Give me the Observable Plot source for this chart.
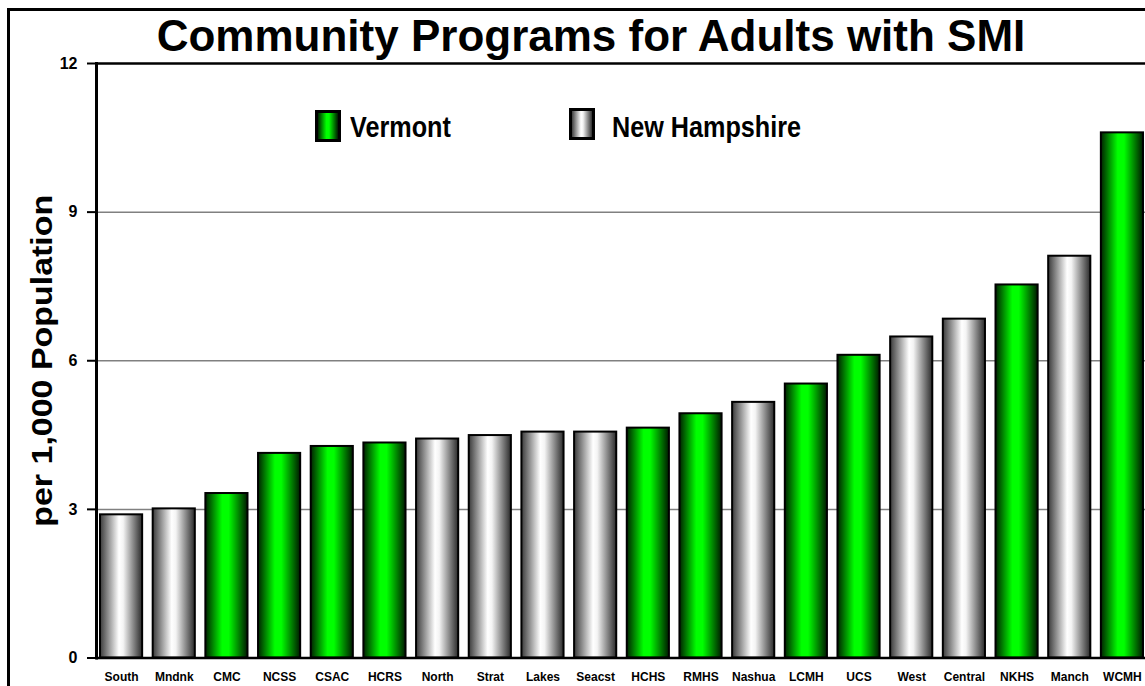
<!DOCTYPE html>
<html>
<head>
<meta charset="utf-8">
<script src="https://cdn.jsdelivr.net/npm/d3@7"></script>
<script src="https://cdn.jsdelivr.net/npm/@observablehq/plot@0.6"></script>
<style>
  html, body { margin: 0; padding: 0; background: #fff; overflow: hidden; width: 1145px; height: 686px; }
  body { position: relative; font-family: "Liberation Sans", Arial, sans-serif; }
  #frame { position: absolute; left: 7px; top: 8px; width: 1200px; height: 700px;
           border-left: 3px solid #000; border-top: 3px solid #000; }
  #title { position: absolute; left: 581px; top: 0; height: 49px; line-height: 49px; white-space: nowrap;
           transform: translateX(-50%); font-size: 44px; font-weight: bold; color: #000; }
  #chart { position: absolute; left: 0; top: 39px; }
  .sw { position: absolute; box-sizing: border-box; border: 3px solid #000; }
  .lt { position: absolute; font-family: "Liberation Sans", Arial, sans-serif;
        font-weight: bold; font-size: 30px; line-height: 30px; white-space: nowrap; color: #000;
        transform: scaleX(0.84); transform-origin: 0 50%; }
</style>
</head>
<body>
<div id="frame">
  <div id="title">Community Programs for Adults with SMI</div>
  <div id="chart"></div>
</div>
<div class="sw" style="left:315px;top:110px;width:26px;height:32px;background:linear-gradient(to right,#002200 0%,#00ff00 42%,#00ff00 55%,#001a00 100%);"></div>
<div class="lt" style="left:350px;top:112px;">Vermont</div>
<div class="sw" style="left:569px;top:108px;width:26px;height:32px;background:linear-gradient(to right,#404040 0%,#ffffff 45%,#f4f4f4 55%,#303030 100%);"></div>
<div class="lt" style="left:612px;top:112px;">New Hampshire</div>
<script>
const categories = ["South","Mndnk","CMC","NCSS","CSAC","HCRS","North","Strat","Lakes","Seacst","HCHS","RMHS","Nashua","LCMH","UCS","West","Central","NKHS","Manch","WCMH"];
const values = [2.89, 3.01, 3.32, 4.13, 4.27, 4.34, 4.42, 4.49, 4.56, 4.56, 4.64, 4.93, 5.16, 5.53, 6.11, 6.48, 6.84, 7.53, 8.11, 10.60];
const states = ["NH","NH","VT","VT","VT","VT","NH","NH","NH","NH","VT","VT","NH","VT","VT","NH","NH","VT","NH","VT"];
const yTicks = [0, 3, 6, 9, 12];
const gridTicks = [3, 6, 9];
const yLabel = "per 1,000 Population";

const data = categories.map((c, i) => ({name: c, value: values[i], state: states[i]}));

const defsMark = () => {
  const defs = document.createElementNS("http://www.w3.org/2000/svg", "defs");
  defs.innerHTML = `
    <linearGradient id="gVT" x1="0" x2="1" y1="0" y2="0">
      <stop offset="0%" stop-color="#002200"/>
      <stop offset="40%" stop-color="#00ff00"/>
      <stop offset="55%" stop-color="#00ff00"/>
      <stop offset="100%" stop-color="#001a00"/>
    </linearGradient>
    <linearGradient id="gNH" x1="0" x2="1" y1="0" y2="0">
      <stop offset="0%" stop-color="#3a3a3a"/>
      <stop offset="45%" stop-color="#ffffff"/>
      <stop offset="55%" stop-color="#f4f4f4"/>
      <stop offset="100%" stop-color="#2a2a2a"/>
    </linearGradient>`;
  return defs;
};

const chart = Plot.plot({
  width: 1140,
  height: 636,
  marginLeft: 86,
  marginRight: 3,
  marginTop: 13,
  marginBottom: 28.5,
  style: {fontFamily: "'Liberation Sans', Arial, sans-serif", background: "transparent", color: "#000"},
  x: {domain: categories, paddingInner: 0.2, paddingOuter: 0.076, round: false, label: null},
  y: {domain: [0, 12], label: null},
  marks: [
    defsMark,
    Plot.gridY(gridTicks, {stroke: "#808080", strokeOpacity: 1, strokeWidth: 1.5}),
    Plot.barY(data.filter(d => d.state === "VT"), {x: "name", y: "value", fill: "url(#gVT)", stroke: "#000", strokeWidth: 2}),
    Plot.barY(data.filter(d => d.state === "NH"), {x: "name", y: "value", fill: "url(#gNH)", stroke: "#000", strokeWidth: 2}),
    Plot.axisY(yTicks, {tickSize: 9, tickPadding: 10, fontSize: 16, fontWeight: "bold", strokeWidth: 2, tickFormat: d => String(d), label: null}),
    Plot.axisX({tickSize: 0, tickPadding: 14, fontSize: 12, fontWeight: "bold", label: null}),
    Plot.frame({anchor: "left", stroke: "#000", strokeWidth: 3}),
    Plot.frame({anchor: "top", stroke: "#000", strokeWidth: 2.5}),
    Plot.ruleY([0], {stroke: "#000", strokeWidth: 2.5}),
    Plot.text([yLabel], {frameAnchor: "left", textAnchor: "middle", rotate: -90, dx: -54, fontSize: 30, fontWeight: "bold", fill: "#000"})
  ]
});
document.getElementById("chart").appendChild(chart);
chart.querySelectorAll("text").forEach(t => {
  if (t.textContent === yLabel) {
    t.setAttribute("textLength", "332");
    t.setAttribute("lengthAdjust", "spacingAndGlyphs");
  }
});
</script>
</body>
</html>
